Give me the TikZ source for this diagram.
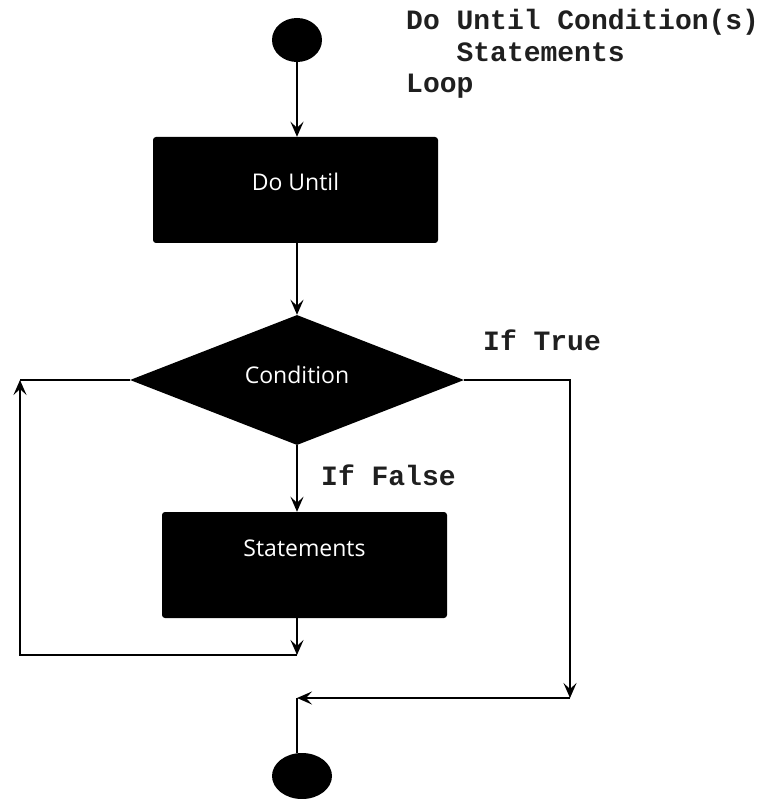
\documentclass[tikz,border=0pt]{standalone}
\usepackage{fontspec}
\usepackage{tikz}
\usetikzlibrary{shapes.geometric,arrows.meta}
\newfontfamily\codefont{Liberation Mono}
\newfontfamily\boxfont{Open Sans}

\begin{document}
\begin{tikzpicture}[x=1pt,y=-1pt,
    every node/.style={inner sep=0pt},
    term/.style={ellipse,fill=black},
    block/.style={rectangle,rounded corners=3pt,fill=black,text=white,
        font=\boxfont\fontsize{23}{27}\selectfont,
        minimum width=285pt,minimum height=106pt,text height=16.4pt},
    decide/.style={diamond,fill=black,text=white,
        font=\boxfont\fontsize{23}{27}\selectfont,
        minimum width=334pt,minimum height=130pt,aspect=2.57,
        text height=16.4pt,text depth=10pt},
    code/.style={anchor=base west,text=black!88,
        font=\codefont\bfseries\fontsize{28}{32}\selectfont},
    flow/.style={line width=2pt,-{Stealth[length=15pt,width=13pt,inset=6pt]}},
    wire/.style={line width=2pt}]
                \useasboundingbox (0,0) rectangle (767,799);

                % Syntax
                \node[code] (code1) at (406,30) {Do Until Condition(s)};
                \node[code] (code2) at (406,62) {\phantom{xxx}Statements};
                \node[code] (code3) at (406,93) {Loop};

                % Start and end
                \node[term,minimum width=50pt,minimum height=44pt] (start) at (297,40) {};
                \node[term,minimum width=60pt,minimum height=46pt] (stop) at (302,776) {};

                % Blocks
                \node[block,text depth=16pt] (dountil) at (295.5,190) {Do Until};
                \node[decide] (cond) at (297,380) {Condition};
                \node[block,text depth=34pt] (stmts) at (304.5,565) {Statements};

                % Branch labels
                \node[code] (iftrue) at (483,350) {If True};
                \node[code] (iffalse) at (321,485) {If False};

                % Corners
                \coordinate (loopend) at (297,655);
                \coordinate (loopcorner) at (20,655);
                \coordinate (loopleft) at (20,380);
                \coordinate (truecorner) at (570,380);
                \coordinate (truedown) at (570,698);
                \coordinate (merge) at (297,698);

                % Main flow
                \draw[flow] (start) -- (start |- dountil.north);
                \draw[flow] (dountil.south -| start) -- (cond.north);
                \draw[flow] (cond.south) -- (cond.south |- stmts.north);

                % Back to condition
                \draw[flow] (stmts.south -| cond) -- (loopend);
                \draw[flow] (loopend) -- (loopcorner) -- (loopleft);
                \draw[wire] (loopleft) -- (cond.west);

                % Exit
                \draw[flow] (cond.east) -- (truecorner) -- (truedown);
                \draw[flow] (truedown) -- (merge);
                \draw[wire] (merge) -- (merge |- stop.north);
            \end{tikzpicture}
\end{document}
